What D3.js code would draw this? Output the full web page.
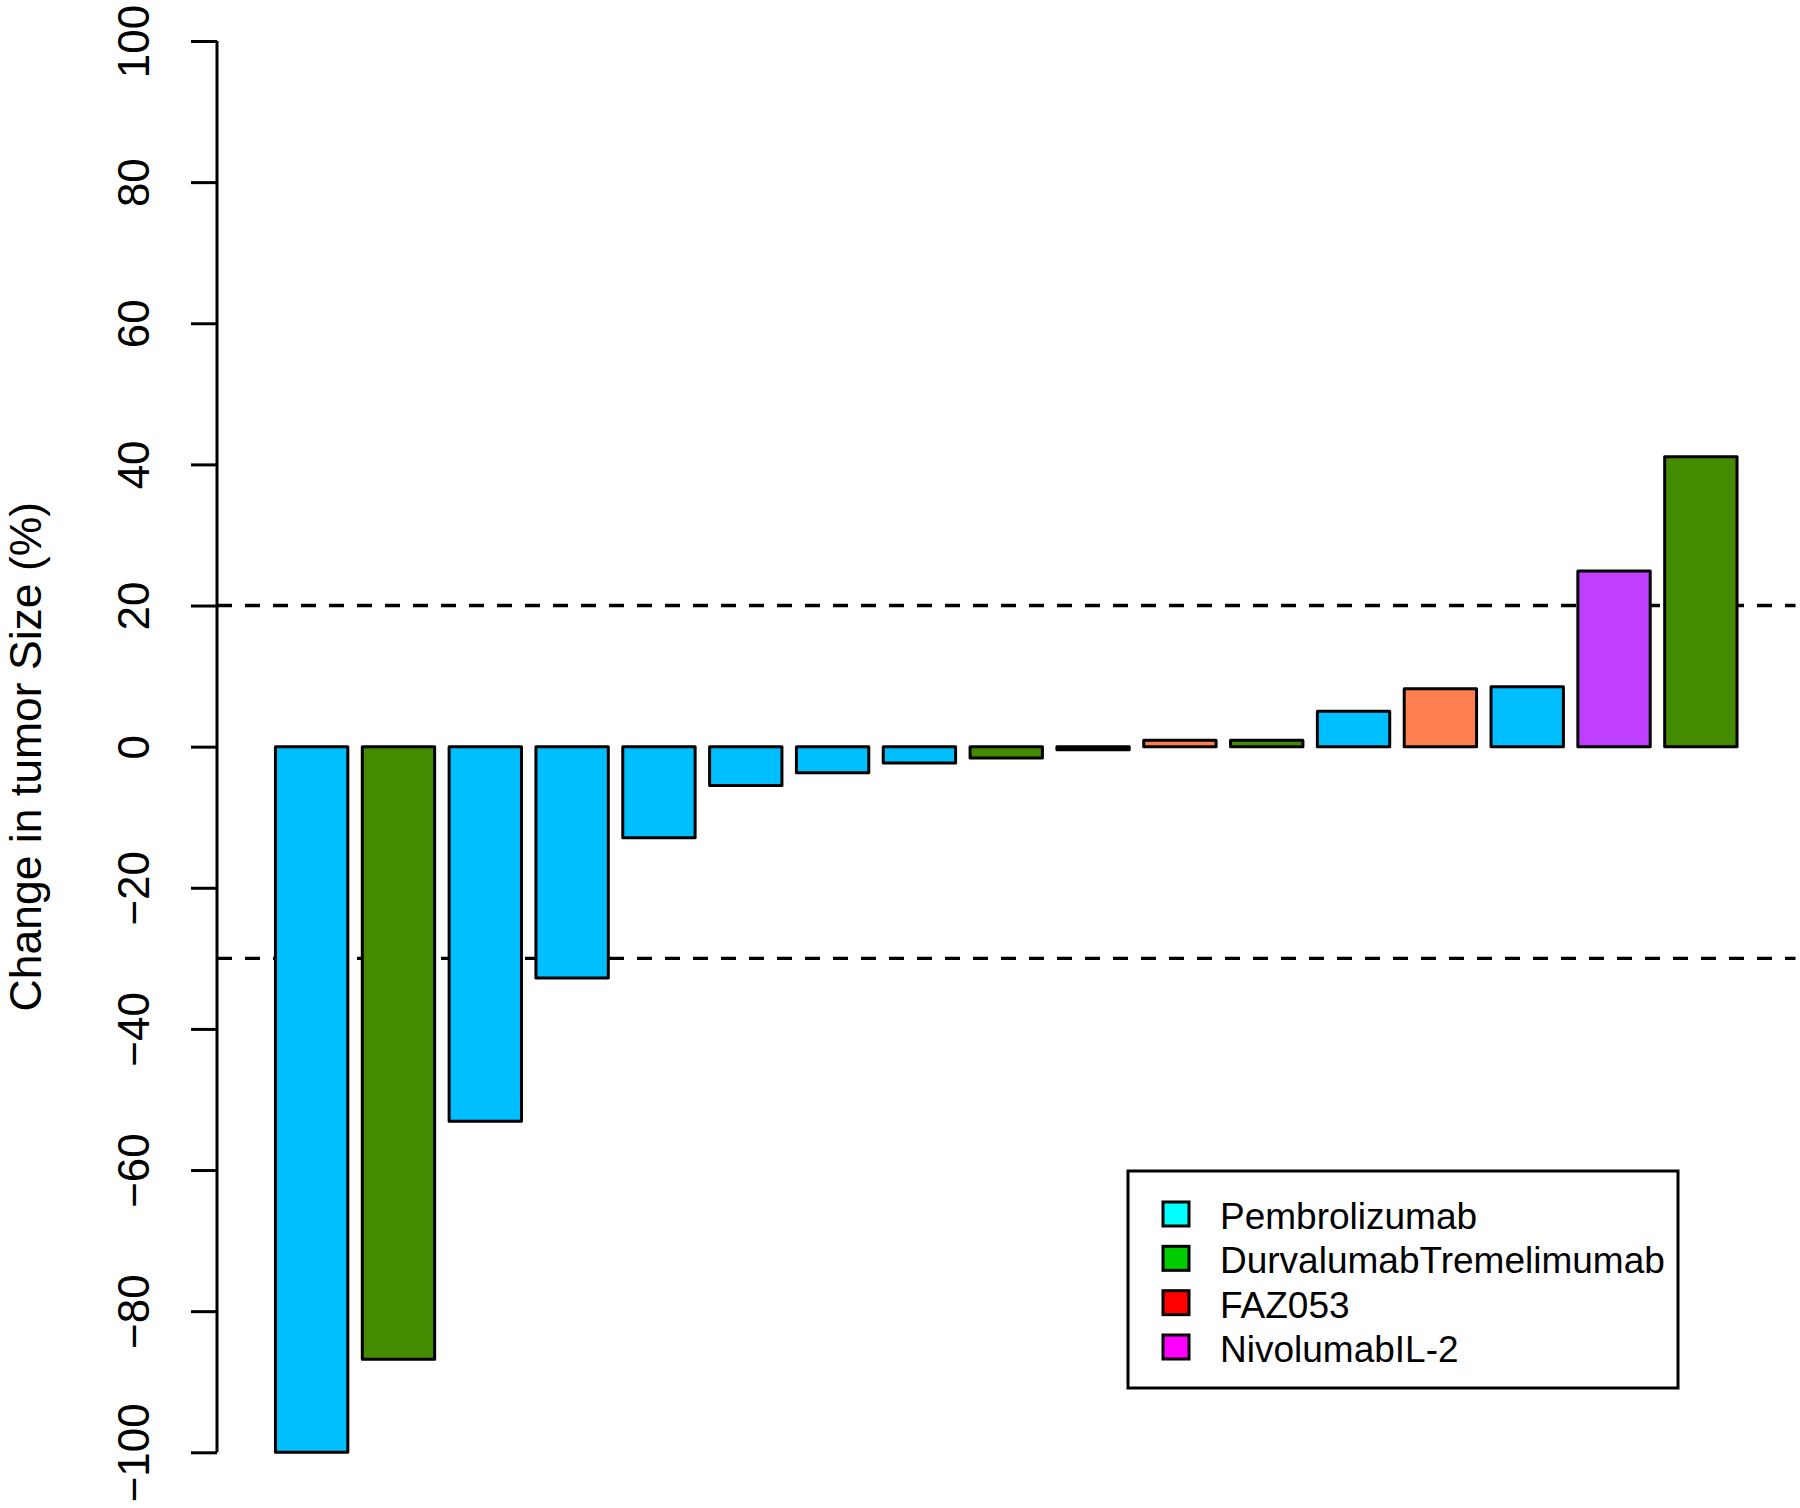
<!DOCTYPE html>
<html>
<head>
<meta charset="utf-8">
<script src="https://cdn.jsdelivr.net/npm/d3@7"></script>
<style>
  html, body { margin: 0; padding: 0; background: #fff; }
  svg { display: block; }
  text { font-family: "Liberation Sans", Arial, Helvetica, sans-serif; fill: #000; }
</style>
</head>
<body>
<svg id="chart" width="1800" height="1508"></svg>
<script>
// ---- data ----
const patients = ["P1","P2","P3","P4","P5","P6","P7","P8","P9","P10","P11","P12","P13","P14","P15","P16","P17"];
const changeValues = [-100, -86.8, -53.1, -32.8, -12.9, -5.5, -3.7, -2.3, -1.6, -0.45, 0.9, 0.9, 5.0, 8.2, 8.5, 24.9, 41.1];
const treatments = ["Pembrolizumab","DurvalumabTremelimumab","Pembrolizumab","Pembrolizumab","Pembrolizumab",
  "Pembrolizumab","Pembrolizumab","Pembrolizumab","DurvalumabTremelimumab","Pembrolizumab",
  "FAZ053","DurvalumabTremelimumab","Pembrolizumab","FAZ053","Pembrolizumab","NivolumabIL-2","DurvalumabTremelimumab"];
const barColorByTreatment = {"Pembrolizumab":"#00BFFF","DurvalumabTremelimumab":"#458B00","FAZ053":"#FF7F50","NivolumabIL-2":"#BF3EFF"};
const legendLabels = ["Pembrolizumab","DurvalumabTremelimumab","FAZ053","NivolumabIL-2"];
const legendColors = ["#00FFFF","#00CD00","#FF0000","#FF00FF"];
const yTicks = [-100,-80,-60,-40,-20,0,20,40,60,80,100];
const refLines = [20, -30];
const yLabel = "Change in tumor Size (%)";

// ---- layout ----
const svg = d3.select("#chart");
// R barplot geometry: width 1, space 0.2
const nBars = changeValues.length;
const xLo = 0.2, xHi = nBars * 1.2;
const pad = (xHi - xLo) * 0.04;
const x = d3.scaleLinear().domain([xLo - pad, xHi + pad]).range([217, 1795.5]);
const y = d3.scaleLinear().domain([-100, 100]).range([1452.3, 41]);

// reference dashed lines
svg.append("g").selectAll("line").data(refLines).join("line")
  .attr("x1", x(xLo - pad)).attr("x2", x(xHi + pad))
  .attr("y1", d => y(d)).attr("y2", d => y(d))
  .attr("stroke", "#000").attr("stroke-width", 3.3)
  .attr("stroke-dasharray", "15,13");

// bars
svg.append("g").selectAll("rect").data(changeValues).join("rect")
  .attr("x", (d, i) => x(0.2 + i * 1.2))
  .attr("width", (d, i) => x(1.2 + i * 1.2) - x(0.2 + i * 1.2))
  .attr("y", d => y(Math.max(0, d)))
  .attr("height", d => Math.abs(y(d) - y(0)))
  .attr("fill", (d, i) => barColorByTreatment[treatments[i]])
  .attr("stroke", "#000").attr("stroke-width", 3)
  .attr("stroke-linejoin", "round");

// y axis
const yAxis = d3.axisLeft(y).tickValues(yTicks).tickSize(26).tickFormat(d => d < 0 ? "\u2212" + Math.abs(d) : String(d));
const gAxis = svg.append("g").attr("transform", `translate(${x(xLo - pad)},0)`).call(yAxis);
gAxis.select(".domain").attr("stroke", "#000").attr("stroke-width", 3)
  .attr("d", `M0,${y(-100)}V${y(100)}`);
gAxis.selectAll(".tick line").attr("stroke", "#000").attr("stroke-width", 3);
gAxis.selectAll(".tick text")
  .attr("x", null).attr("dy", null)
  .attr("transform", "translate(-68,0) rotate(-90)")
  .attr("text-anchor", "middle")
  .attr("font-size", 44)
  .attr("font-family", "Liberation Sans, Arial, sans-serif")
  .attr("fill", "#000");

// y label
svg.append("text")
  .attr("transform", `translate(41,${(y(-100) + y(100)) / 2 + 10}) rotate(-90)`)
  .attr("text-anchor", "middle")
  .attr("font-size", 44.5)
  .text(yLabel);

// legend
const lg = svg.append("g");
lg.append("rect").attr("x", 1128).attr("y", 1171).attr("width", 550).attr("height", 217)
  .attr("fill", "#fff").attr("stroke", "#000").attr("stroke-width", 3);
const rowY = d3.scalePoint().domain(legendLabels).range([1214, 1347]);
lg.selectAll("rect.key").data(legendLabels).join("rect").attr("class", "key")
  .attr("x", 1163).attr("y", d => rowY(d) - 12).attr("width", 26).attr("height", 24)
  .attr("fill", (d, i) => legendColors[i]).attr("stroke", "#000").attr("stroke-width", 3);
lg.selectAll("text").data(legendLabels).join("text")
  .attr("x", 1220).attr("y", d => rowY(d) + 15)
  .attr("font-size", 37)
  .text(d => d);
</script>
</body>
</html>
